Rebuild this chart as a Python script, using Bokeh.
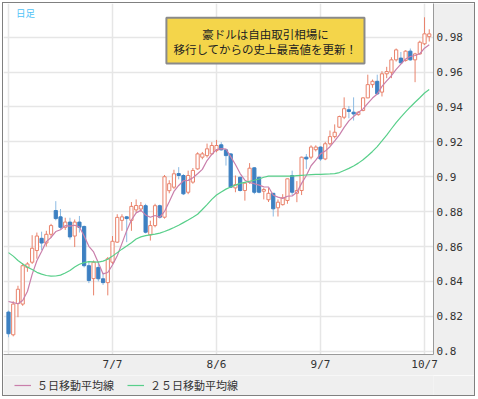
import pandas as pd
from bokeh.plotting import figure
from bokeh.layouts import column
from bokeh.models import (ColumnDataSource, Range1d, FixedTicker, Legend, LegendItem,
                          BoxAnnotation, Label)
from bokeh.embed import file_html
from bokeh.resources import INLINE

# ---- data (AUD/USD daily) ----
dates = pd.bdate_range("2010-06-07", "2010-10-08")

open_ = [0.8224, 0.8094, 0.8273, 0.8270, 0.8480, 0.8510, 0.8577, 0.8647, 0.8620, 0.8670,
         0.8806, 0.8770, 0.8710, 0.8740, 0.8660, 0.8740, 0.8715, 0.8490, 0.8416, 0.8480,
         0.8415, 0.8393, 0.8510, 0.8625, 0.8750, 0.8770, 0.8750, 0.8810, 0.8815, 0.8834,
         0.8667, 0.8720, 0.8834, 0.8768, 0.8920, 0.8940, 0.9018, 0.9007, 0.8911, 0.8969,
         0.9045, 0.9112, 0.9121, 0.9131, 0.9150, 0.9183, 0.9154, 0.9131, 0.8936, 0.8997,
         0.8921, 0.8969, 0.9051, 0.8997, 0.8917, 0.8868, 0.8905, 0.8822, 0.8840, 0.8864,
         0.9007, 0.8905, 0.8921, 0.9112, 0.9112, 0.9155, 0.9170, 0.9102, 0.9189, 0.9230,
         0.9284, 0.9341, 0.9384, 0.9370, 0.9356, 0.9380, 0.9452, 0.9528, 0.9547, 0.9485,
         0.9590, 0.9599, 0.9670, 0.9680, 0.9666, 0.9720, 0.9670, 0.9704, 0.9762, 0.9803]
high = [0.8233, 0.8286, 0.8375, 0.8505, 0.8510, 0.8665, 0.8680, 0.8685, 0.8690, 0.8730,
        0.8860, 0.8815, 0.8765, 0.8765, 0.8755, 0.8775, 0.8720, 0.8515, 0.8520, 0.8515,
        0.8450, 0.8540, 0.8660, 0.8785, 0.8785, 0.8775, 0.8855, 0.8870, 0.8855, 0.8845,
        0.8748, 0.8845, 0.8840, 0.9010, 0.8980, 0.9040, 0.9055, 0.9015, 0.9035, 0.9050,
        0.9140, 0.9142, 0.9190, 0.9198, 0.9211, 0.9198, 0.9160, 0.9135, 0.9007, 0.9000,
        0.8970, 0.9078, 0.9055, 0.9000, 0.8935, 0.8935, 0.8905, 0.8870, 0.8900, 0.8990,
        0.9035, 0.8975, 0.9115, 0.9130, 0.9180, 0.9180, 0.9175, 0.9200, 0.9265, 0.9300,
        0.9350, 0.9455, 0.9405, 0.9455, 0.9375, 0.9455, 0.9585, 0.9557, 0.9585, 0.9605,
        0.9630, 0.9685, 0.9735, 0.9715, 0.9725, 0.9735, 0.9710, 0.9780, 0.9914, 0.9845]
low = [0.8080, 0.8085, 0.8195, 0.8260, 0.8455, 0.8500, 0.8530, 0.8580, 0.8600, 0.8650,
       0.8750, 0.8700, 0.8695, 0.8640, 0.8597, 0.8680, 0.8480, 0.8390, 0.8320, 0.8400,
       0.8380, 0.8320, 0.8500, 0.8620, 0.8690, 0.8625, 0.8690, 0.8795, 0.8800, 0.8675,
       0.8634, 0.8710, 0.8760, 0.8760, 0.8905, 0.8930, 0.8985, 0.8895, 0.8900, 0.8960,
       0.9040, 0.9100, 0.9110, 0.9125, 0.9140, 0.9150, 0.9064, 0.8935, 0.8911, 0.8915,
       0.8863, 0.8960, 0.8900, 0.8905, 0.8870, 0.8855, 0.8772, 0.8772, 0.8835, 0.8845,
       0.8895, 0.8854, 0.8895, 0.9045, 0.9100, 0.9145, 0.9090, 0.9095, 0.9180, 0.9220,
       0.9280, 0.9330, 0.9335, 0.9322, 0.9350, 0.9375, 0.9450, 0.9510, 0.9470, 0.9460,
       0.9565, 0.9565, 0.9660, 0.9650, 0.9660, 0.9665, 0.9542, 0.9700, 0.9755, 0.9775]
close = [0.8100, 0.8270, 0.8355, 0.8490, 0.8500, 0.8590, 0.8660, 0.8620, 0.8670, 0.8720,
         0.8760, 0.8710, 0.8740, 0.8655, 0.8740, 0.8710, 0.8490, 0.8405, 0.8510, 0.8415,
         0.8393, 0.8530, 0.8630, 0.8767, 0.8770, 0.8760, 0.8830, 0.8835, 0.8835, 0.8682,
         0.8720, 0.8834, 0.8768, 0.9000, 0.8960, 0.9017, 0.9007, 0.8902, 0.9007, 0.9036,
         0.9131, 0.9131, 0.9160, 0.9179, 0.9179, 0.9154, 0.9121, 0.8940, 0.8955, 0.8921,
         0.8963, 0.9049, 0.8911, 0.8911, 0.8927, 0.8905, 0.8816, 0.8854, 0.8879, 0.8988,
         0.8911, 0.8921, 0.9112, 0.9102, 0.9170, 0.9170, 0.9102, 0.9189, 0.9230, 0.9255,
         0.9345, 0.9390, 0.9374, 0.9360, 0.9370, 0.9452, 0.9528, 0.9547, 0.9475, 0.9590,
         0.9603, 0.9670, 0.9727, 0.9653, 0.9720, 0.9670, 0.9704, 0.9771, 0.9819, 0.9819]

ma5 = [0.8285, 0.8278, 0.8272, 0.8290, 0.8342, 0.8440, 0.8518, 0.8572, 0.8628, 0.8652,
       0.8686, 0.8696, 0.8720, 0.8717, 0.8722, 0.8712, 0.8660, 0.8601, 0.8569, 0.8507,
       0.8443, 0.8451, 0.8494, 0.8547, 0.8618, 0.8691, 0.8752, 0.8793, 0.8807, 0.8781,
       0.8768, 0.8778, 0.8768, 0.8801, 0.8856, 0.8916, 0.8950, 0.8977, 0.8979, 0.8994,
       0.9017, 0.9042, 0.9093, 0.9128, 0.9156, 0.9161, 0.9159, 0.9115, 0.9070, 0.9018,
       0.8980, 0.8966, 0.8960, 0.8952, 0.8942, 0.8941, 0.8894, 0.8883, 0.8876, 0.8888,
       0.8890, 0.8911, 0.8962, 0.9007, 0.9063, 0.9095, 0.9131, 0.9147, 0.9172, 0.9205,
       0.9240, 0.9283, 0.9320, 0.9345, 0.9368, 0.9389, 0.9421, 0.9451, 0.9474, 0.9518,
       0.9549, 0.9579, 0.9615, 0.9645, 0.9675, 0.9689, 0.9695, 0.9705, 0.9737, 0.9757]
ma25 = [0.8565, 0.8545, 0.8520, 0.8500, 0.8482, 0.8468, 0.8452, 0.8442, 0.8434, 0.8430,
        0.8431, 0.8436, 0.8448, 0.8463, 0.8482, 0.8498, 0.8508, 0.8513, 0.8512, 0.8511,
        0.8516, 0.8527, 0.8545, 0.8565, 0.8585, 0.8603, 0.8622, 0.8643, 0.8655, 0.8662,
        0.8667, 0.8671, 0.8677, 0.8686, 0.8697, 0.8709, 0.8722, 0.8737, 0.8752, 0.8768,
        0.8785, 0.8812, 0.8840, 0.8870, 0.8895, 0.8913, 0.8929, 0.8941, 0.8952, 0.8962,
        0.8968, 0.8974, 0.8980, 0.8987, 0.8997, 0.9003, 0.9003, 0.9003, 0.9003, 0.9003,
        0.9004, 0.9006, 0.9008, 0.9010, 0.9012, 0.9013, 0.9014, 0.9015, 0.9016, 0.9018,
        0.9024, 0.9036, 0.9048, 0.9062, 0.9078, 0.9097, 0.9120, 0.9145, 0.9173, 0.9205,
        0.9238, 0.9275, 0.9310, 0.9342, 0.9372, 0.9400, 0.9427, 0.9453, 0.9480, 0.9500]

x_tick_dates = ["2010-06-07", "2010-07-07", "2010-08-06", "2010-09-07", "2010-10-07"]
x_tick_labels = ["", "7/7", "8/6", "9/7", "10/7"]
y_ticks = [0.80, 0.82, 0.84, 0.86, 0.88, 0.90, 0.92, 0.94, 0.96, 0.98]
y_tick_labels = ["0.8", "0.82", "0.84", "0.86", "0.88", "0.9", "0.92", "0.94", "0.96", "0.98"]

legend_labels = ["５日移動平均線", "２５日移動平均線"]
note_lines = ["豪ドルは自由取引相場に", "移行してからの史上最高値を更新！"]
period_label = "日足"

# ---- build ----
idx = list(range(len(dates)))
date_pos = {d.strftime("%Y-%m-%d"): i for i, d in enumerate(dates)}
x_ticks = [date_pos[d] for d in x_tick_dates]

def subset(flag):
    ii = [i for i in idx if flag(i)]
    return ColumnDataSource(dict(
        x=ii,
        top=[max(open_[i], close[i]) for i in ii],
        bottom=[min(open_[i], close[i]) for i in ii],
        high=[high[i] for i in ii],
        low=[low[i] for i in ii],
    ))

src_up = subset(lambda i: close[i] >= open_[i])
src_dn = subset(lambda i: close[i] < open_[i])
src_ma = ColumnDataSource(dict(x=idx, ma5=ma5, ma25=ma25))

UP = "#e9836c"
DN = "#3d80c2"
DN_WICK = "#8dbbe3"
MA5_C = "#c97fab"
MA25_C = "#58cf8a"
PANEL = "#efefef"

p = figure(width=471, height=372, output_backend="svg", toolbar_location=None,
           x_range=Range1d(-1.06, 89.9), y_range=Range1d(0.7981, 0.9993),
           y_axis_location="right",
           min_border_left=0, min_border_top=0, min_border_right=41, min_border_bottom=21,
           background_fill_color="white", border_fill_color=PANEL)
p.outline_line_color = None

# grid
for g in (p.xgrid, p.ygrid):
    g.grid_line_color = "#e6e6e6"
    g.grid_line_width = 1.5

# axes
p.yaxis.ticker = FixedTicker(ticks=y_ticks)
p.yaxis.major_label_overrides = {t: l for t, l in zip(y_ticks, y_tick_labels)}
p.xaxis.ticker = FixedTicker(ticks=x_ticks)
p.xaxis.major_label_overrides = {t: l for t, l in zip(x_ticks, x_tick_labels)}
for ax in (p.xaxis, p.yaxis):
    ax.major_tick_in = 0
    ax.major_tick_out = 0
    ax.minor_tick_in = 0
    ax.minor_tick_out = 0
    ax.axis_line_color = "#9a9a9a"
    ax.major_label_text_font = "DejaVu Sans Mono"
    ax.major_label_text_font_size = "11px"
    ax.major_label_text_color = "#333333"
p.yaxis.major_label_standoff = 3
p.xaxis.major_label_standoff = 3

# candles
p.segment(x0="x", x1="x", y0="low", y1="high", source=src_up, line_color=UP, line_width=1)
p.segment(x0="x", x1="x", y0="low", y1="high", source=src_dn, line_color=DN_WICK, line_width=1)
p.vbar(x="x", width=0.68, top="top", bottom="bottom", source=src_up,
       fill_color="white", line_color=UP, line_width=1)
p.vbar(x="x", width=0.68, top="top", bottom="bottom", source=src_dn,
       fill_color=DN, line_color=DN, line_width=1)

# moving averages
p.line("x", "ma5", source=src_ma, line_color=MA5_C, line_width=1.2)
p.line("x", "ma25", source=src_ma, line_color=MA25_C, line_width=1.2)

# annotation box
box = BoxAnnotation(left=33.4, right=75.3, top=0.9912, bottom=0.9649,
                    fill_color="#f4d54a", fill_alpha=1.0,
                    line_color="#8a8a8a", line_width=2, line_alpha=1.0)
p.add_layout(box)
for txt, yy in zip(note_lines, [0.9821, 0.9735]):
    p.add_layout(Label(x=54.35, y=yy, text=txt, text_align="center", text_baseline="middle",
                       text_font="Noto Sans CJK JP", text_font_size="11.5px",
                       text_color="#222222"))

p.add_layout(Label(x=1.6, y=0.9941, text=period_label, text_align="left",
                   text_baseline="middle", text_font="Noto Sans CJK JP",
                   text_font_size="9.5px", text_color="#4fc3f7"))

# legend strip below the chart (its own lines fall outside its ranges; only the
# legend samples are visible)
p2 = figure(width=471, height=20, output_backend="svg", toolbar_location=None,
            x_range=Range1d(-1.06, 89.9), y_range=Range1d(10, 11),
            min_border=0, background_fill_color=PANEL, border_fill_color=PANEL)
p2.outline_line_color = None
p2.axis.visible = False
p2.grid.visible = False
k5 = p2.line("x", "ma5", source=src_ma, line_color=MA5_C, line_width=1.2)
k25 = p2.line("x", "ma25", source=src_ma, line_color=MA25_C, line_width=1.2)
legend = Legend(items=[LegendItem(label=legend_labels[0], renderers=[k5]),
                       LegendItem(label=legend_labels[1], renderers=[k25])],
                orientation="horizontal", location="center_left",
                glyph_width=17, glyph_height=12, label_standoff=6, spacing=13,
                padding=1, margin=11, border_line_color=None, background_fill_alpha=0,
                label_text_font="Noto Sans CJK JP", label_text_font_size="11px",
                label_text_color="#333333", label_height=12)
p2.add_layout(legend)

layout = column(p, p2, spacing=0,
                styles={"border": "1px solid #808080", "margin": "2px 0 0 2px"})

open("out.html", "w").write(file_html(layout, INLINE))
